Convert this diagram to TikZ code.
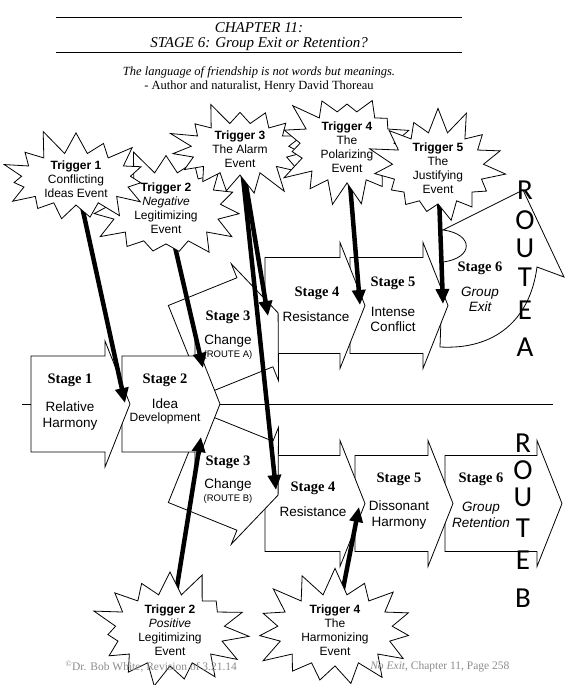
\documentclass[tikz,border=0pt]{standalone}
\usepackage{fontspec}
\setmainfont{Liberation Serif}
\setsansfont{Liberation Sans}
\newfontfamily\routefont{Carlito}
\usetikzlibrary{arrows.meta,shapes.symbols}

\pgfdeclarelayer{stages}
\pgfdeclarelayer{links}
\pgfsetlayers{stages,links,main}

% chevron arrow: left x, centre y, body length
\newcommand{\chev}[3]{%
  \draw[stagebox] ({#1},{#2-48}) -- ({#1+#3},{#2-48}) -- ({#1+#3},{#2-63})
    -- ({#1+#3+25},{#2}) -- ({#1+#3},{#2+63}) -- ({#1+#3},{#2+48})
    -- ({#1},{#2+48}) -- cycle;}

\begin{document}
\begin{tikzpicture}[
  x=1pt, y=-1pt,
  stagebox/.style={draw, fill=white, line width=0.8pt},
  stlabel/.style={font=\fontsize{14.5}{15}\selectfont\bfseries},
  sttext/.style={font=\sffamily\fontsize{13.5}{16}\selectfont, align=center},
  burst/.style={starburst, starburst points=15, starburst point height=27pt,
    draw, fill=white, line width=0.8pt, align=center,
    inner xsep=7pt, inner ysep=0pt,
    font=\sffamily\fontsize{12}{14}\selectfont},
  trig/.style={line width=4.5pt, -{Triangle[length=15pt,width=13pt]}},
  route/.style={font=\routefont\fontsize{29}{29}\selectfont},
]
  \useasboundingbox (0,0) rectangle (581,685);

  % Header
  \draw[line width=0.8pt] (56,17) -- (462,17);
  \node[font=\itshape\fontsize{15}{16}\selectfont] (chap) at (259,28) {CHAPTER 11:};
  \node[font=\itshape\fontsize{15}{16}\selectfont] (title) at (259,44) {STAGE 6: Group Exit or Retention?};
  \draw[line width=0.8pt] (56,52) -- (462,52);
  \node[font=\itshape\fontsize{12.5}{14}\selectfont] (quote) at (259,72) {The language of friendship is not words but meanings.};
  \node[font=\fontsize{12.5}{14}\selectfont] (author) at (259,87) {- Author and naturalist, Henry David Thoreau};

  % Stage arrows, later stages underneath
  \begin{pgfonlayer}{stages}
    \draw[line width=0.8pt] (22,404) -- (553,404);
    % route A
    \draw[stagebox] (440,347) -- (443,262) .. controls (474,258) and (474,234) .. (443,230)
      -- (523,190) -- (564,277) -- (537,267) .. controls (530,320) and (495,350) .. (440,347) -- cycle;
    \chev{350}{305.5}{73}
    \chev{265}{305.5}{75}
    \begin{scope}[shift={(186.3,350)}, rotate=22]
      \chev{0}{0}{74}
    \end{scope}
    % route B
    \chev{445}{503.5}{92}
    \chev{355}{503.5}{73}
    \chev{265}{503.5}{75}
    \begin{scope}[shift={(186.3,458)}, rotate=-22]
      \chev{0}{0}{74}
    \end{scope}
    % shared stages
    \chev{122}{404}{73}
    \chev{31}{404}{74}
  \end{pgfonlayer}

  % Stage texts
  \node[stlabel] (s1) at (70,380) {Stage 1};
  \node[sttext] (s1t) at (70,416) {Relative\\Harmony};
  \node[stlabel] (s2) at (165,380) {Stage 2};
  \node[sttext] (s2t) at (165,404) {Idea};
  \node[sttext, font=\sffamily\fontsize{12}{14}\selectfont] (s2d) at (165,418) {Development};
  \node[stlabel] (s3a) at (228,317) {Stage 3};
  \node[sttext] (s3at) at (228,341) {Change};
  \node[sttext, font=\sffamily\fontsize{9.5}{10}\selectfont] (s3ar) at (228,355) {(ROUTE A)};
  \node[stlabel] (s3b) at (228,462) {Stage 3};
  \node[sttext] (s3bt) at (228,485) {Change};
  \node[sttext, font=\sffamily\fontsize{9.5}{10}\selectfont] (s3br) at (228,499) {(ROUTE B)};
  \node[stlabel] (s4a) at (317,293) {Stage 4};
  \node[sttext] (s4at) at (316,317) {Resistance};
  \node[stlabel] (s5a) at (393,283) {Stage 5};
  \node[sttext, font=\sffamily\fontsize{13.5}{15}\selectfont] (s5at) at (393,319.5) {Intense\\Conflict};
  \node[stlabel] (s6a) at (480,268) {Stage 6};
  \node[sttext, font=\sffamily\itshape\fontsize{13.5}{15}\selectfont] (s6at) at (480,299.5) {Group\\Exit};
  \node[stlabel] (s4b) at (313,488) {Stage 4};
  \node[sttext] (s4bt) at (313,512) {Resistance};
  \node[stlabel] (s5b) at (399,479) {Stage 5};
  \node[sttext] (s5bt) at (399,515) {Dissonant\\Harmony};
  \node[stlabel] (s6b) at (481,479) {Stage 6};
  \node[sttext, font=\sffamily\itshape\fontsize{13.5}{16}\selectfont] (s6bt) at (481,515) {Group\\Retention};

  % Route letters
  \foreach \l/\y [count=\i] in {R/190,O/220,U/248,T/277,E/310,A/347}
    \node[route] (ra\i) at (525,\y) {\l};
  \foreach \l/\y [count=\i] in {R/443,O/470,U/497,T/528,E/560,B/598}
    \node[route] (rb\i) at (523,\y) {\l};

  % Triggers
  \node[burst, random starburst=5] (t2n) at (166,208) {\textbf{Trigger 2}\\\textit{Negative}\\Legitimizing\\Event};
  \node[burst, random starburst=11] (t1) at (76,179) {\textbf{Trigger 1}\\Conflicting\\Ideas Event};
  \node[burst, random starburst=29] (t3) at (240,149) {\textbf{Trigger 3}\\The Alarm\\Event};
  \node[burst, random starburst=23] (t4p) at (347,147) {\textbf{Trigger 4}\\The\\Polarizing\\Event};
  \node[burst, random starburst=17] (t5) at (438,168) {\textbf{Trigger 5}\\The\\Justifying\\Event};
  \node[burst, random starburst=37] (t2p) at (170,630) {\textbf{Trigger 2}\\\textit{Positive}\\Legitimizing\\Event};
  \node[burst, random starburst=43] (t4h) at (335,630) {\textbf{Trigger 4}\\The\\Harmonizing\\Event};

  % Arrow tips
  \coordinate (h1) at (125,403);
  \coordinate (h2n) at (203,368);
  \coordinate (h3a) at (268,316);
  \coordinate (h3b) at (276,490);
  \coordinate (h4a) at (360,305);
  \coordinate (h5a) at (443,304);
  \coordinate (h2p) at (201,437);
  \coordinate (h4h) at (359,507);

  \begin{pgfonlayer}{links}
    \draw[trig] (t1.center) -- (h1);
    \draw[trig] (t2n.center) -- (h2n);
    \draw[trig] (t3.center) -- (h3a);
    \draw[trig] (t3.center) -- (h3b);
    \draw[trig] (t4p.center) -- (h4a);
    \draw[trig] (t5.center) -- (h5a);
    \draw[trig] (t2p.center) -- (h2p);
    \draw[trig] (t4h.center) -- (h4h);
  \end{pgfonlayer}

  % Footer
  \node[black!45, font=\fontsize{11.5}{12}\selectfont, anchor=west] (foot1) at (62,667) {\textsuperscript{©}Dr. Bob White, Revision of 3.21.14};
  \node[black!45, font=\fontsize{11.5}{12}\selectfont, anchor=east] (foot2) at (513,667) {\textit{No Exit}, Chapter 11, Page 258};
\end{tikzpicture}
\end{document}
